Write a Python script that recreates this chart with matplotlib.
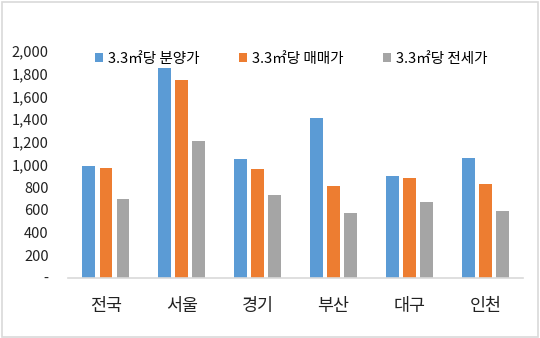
import numpy as np
import matplotlib
matplotlib.use("Agg")
import matplotlib.pyplot as plt
from matplotlib.patches import Rectangle

plt.rcParams['font.family'] = ['Noto Sans CJK KR', 'DejaVu Sans']

regions = ['전국', '서울', '경기', '부산', '대구', '인천']
series_names = ['3.3㎡당 분양가', '3.3㎡당 매매가', '3.3㎡당 전세가']
presale = [985, 1850, 1048, 1410, 898, 1058]
sale = [968, 1745, 962, 810, 880, 828]
jeonse = [696, 1205, 730, 572, 670, 590]
y_ticks = [0, 200, 400, 600, 800, 1000, 1200, 1400, 1600, 1800, 2000]

colors = ['#5B9BD5', '#ED7D31', '#A5A5A5']

fig = plt.figure(figsize=(5.4, 3.38), dpi=100)
ax = fig.add_axes([0.126, 0.178, 0.843, 0.671])

x = np.arange(len(regions))
width = 0.17
step = 0.225
for i, vals in enumerate([presale, sale, jeonse]):
    ax.bar(x + (i - 1) * step, vals, width, color=colors[i], label=series_names[i])

ax.set_xlim(-0.5, len(regions) - 0.5)
ax.set_ylim(0, 2000)
ax.set_yticks(y_ticks)
ax.set_yticklabels(['-'] + [f'{v:,}' for v in y_ticks[1:]], fontsize=10.5)
ax.set_xticks(x)
ax.set_xticklabels(regions, fontsize=12.5)
ax.tick_params(axis='y', length=0, pad=14, colors='#222222')
ax.tick_params(axis='x', length=0, pad=14, colors='#222222')

for s in ['top', 'right', 'left']:
    ax.spines[s].set_visible(False)
ax.spines['bottom'].set_color('#D9D9D9')
ax.spines['bottom'].set_linewidth(1.2)

ax.legend(loc='upper center', bbox_to_anchor=(0.49, 1.055), ncol=3, frameon=False,
          fontsize=10.5, handlelength=0.55, handleheight=0.55, handletextpad=0.35,
          columnspacing=2.7)

fig.patches.append(Rectangle((0.003, 0.004), 0.994, 0.99, transform=fig.transFigure,
                             fill=False, edgecolor='#D9D9D9', linewidth=1.2))

fig.savefig('out.png', dpi=100)
